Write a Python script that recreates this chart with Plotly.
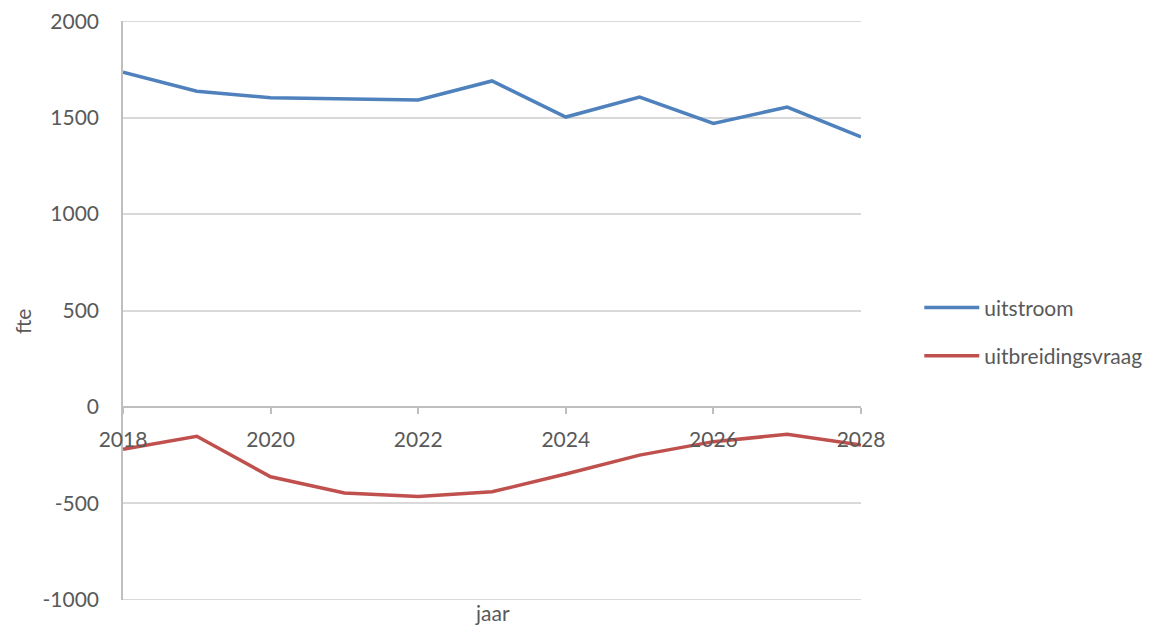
import plotly.graph_objects as go

years = [2018, 2019, 2020, 2021, 2022, 2023, 2024, 2025, 2026, 2027, 2028]
uitstroom = [1735, 1637, 1603, 1598, 1592, 1690, 1503, 1606, 1470, 1555, 1400]
uitbreidingsvraag = [-219, -152, -362, -446, -465, -440, -348, -250, -180, -142, -198]
x_ticks = [2018, 2020, 2022, 2024, 2026, 2028]
y_ticks = [-1000, -500, 0, 500, 1000, 1500, 2000]

FONT = "Lato"
TXT = "#595959"
GRID = "#D9D9D9"

fig = go.Figure()
fig.add_trace(go.Scatter(x=years, y=uitstroom, mode="lines", name="uitstroom",
                         line=dict(color="#4F81BD", width=3.5), legendgroup="a"))
fig.add_trace(go.Scatter(x=years, y=uitbreidingsvraag, mode="lines", name="uitbreidingsvraag",
                         line=dict(color="#C0504D", width=3.5), legendgroup="b"))

# edge gridlines (plotly drops gridlines at the very ends of the axis)
for yv in (y_ticks[0], y_ticks[-1]):
    fig.add_shape(type="line", xref="paper", yref="y", x0=0, x1=1, y0=yv, y1=yv,
                  line=dict(color=GRID, width=1.5), layer="below")

fig.update_layout(
    width=1162, height=635,
    margin=dict(l=115, r=309, t=13, b=43, autoexpand=False),
    paper_bgcolor="white", plot_bgcolor="white",
    font=dict(family=FONT, size=21, color=TXT),
    showlegend=True,
    legend=dict(x=1.079, y=0.463, xanchor="left", yanchor="middle",
                font=dict(size=21, color=TXT), tracegroupgap=18,
                itemwidth=55, bgcolor="rgba(0,0,0,0)"),
    xaxis=dict(range=[2018, 2028], tickvals=x_ticks, ticktext=[str(v) for v in x_ticks],
               anchor="free", position=1001 / 3002, showline=True, linecolor="#BFBFBF", linewidth=1.5,
               ticks="outside", ticklen=6, tickcolor="#BFBFBF", tickwidth=1.5,
               showgrid=False, zeroline=False, ticklabelstandoff=8, automargin=False,
               ticklabeloverflow="allow",
               tickfont=dict(family=FONT, size=21, color=TXT)),
    yaxis=dict(range=[-1001, 2001], tickvals=y_ticks, ticktext=[str(v) for v in y_ticks],
               showline=True, linecolor="#BFBFBF", linewidth=1.5,
               showgrid=True, gridcolor=GRID, gridwidth=1.5, zeroline=False,
               ticks="", ticklabelstandoff=18, automargin=False,
               ticklabeloverflow="allow",
               tickfont=dict(family=FONT, size=21, color=TXT)),
    annotations=[
        dict(text="fte", xref="paper", yref="paper", x=-100 / 738, y=(600 - 322) / 579,
             showarrow=False, textangle=-90, font=dict(family=FONT, size=21, color=TXT),
             xanchor="center", yanchor="middle"),
        dict(text="jaar", xref="paper", yref="paper", x=0.5, y=-12 / 579,
             showarrow=False, font=dict(family=FONT, size=21, color=TXT),
             xanchor="center", yanchor="middle"),
    ],
)

fig.write_html("out.html")
